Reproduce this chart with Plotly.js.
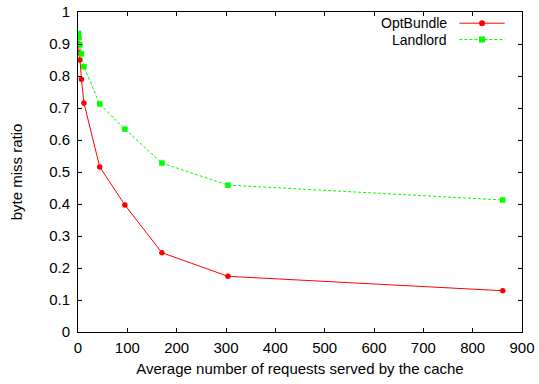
<!DOCTYPE html>
<html><head><meta charset="utf-8">
<script src="https://cdn.plot.ly/plotly-3.0.1.min.js"></script>
<style>html,body{margin:0;padding:0;background:#fff}#chart{width:539px;height:384px}</style>
</head><body><div id="chart"></div>
<script>
var requests = [1, 2, 4, 7, 12, 44, 95, 170, 304, 861];
var optBundle = [0.90, 0.872, 0.85, 0.79, 0.716, 0.516, 0.397, 0.248, 0.174, 0.129];
var landlordX = [1, 2, 4, 7, 12, 44, 95, 170, 304, 861];
var landlord = [0.933, 0.92, 0.897, 0.869, 0.829, 0.7125, 0.634, 0.528, 0.459, 0.4125];
var seriesNames = ['OptBundle', 'Landlord'];
var xTicks = [0, 100, 200, 300, 400, 500, 600, 700, 800, 900];
var yTicks = [0, 0.1, 0.2, 0.3, 0.4, 0.5, 0.6, 0.7, 0.8, 0.9, 1];

var font = {family: 'Liberation Sans, Arial, sans-serif', size: 15, color: '#000'};
var legendFont = {family: 'Liberation Sans, Arial, sans-serif', size: 14, color: '#000'};
var traces = [
  {x: requests, y: optBundle, name: seriesNames[0], mode: 'lines+markers',
   line: {color: '#ff0000', width: 1}, marker: {color: '#ff0000', symbol: 'circle', size: 5.5}},
  {x: landlordX, y: landlord, name: seriesNames[1], mode: 'lines+markers',
   line: {color: '#00ff00', width: 1, dash: '3px,2px'}, marker: {color: '#00ff00', symbol: 'square', size: 5.5}}
];
var axisCommon = {showline: true, linecolor: '#000', linewidth: 1, mirror: 'ticks', ticks: 'inside',
  ticklen: 4, tickcolor: '#000', showgrid: false, zeroline: false, tickfont: font};
var ly1 = 0.965, ly2 = 0.914, lx0 = 0.859, lx1 = 0.961, lxm = 0.910, ltx = 0.834;
var layout = {
  width: 539, height: 384, showlegend: false,
  margin: {l: 78, r: 17, t: 12, b: 52},
  paper_bgcolor: '#fff', plot_bgcolor: '#fff', font: font,
  xaxis: Object.assign({}, axisCommon, {range: [0, 900], tickvals: xTicks, ticktext: xTicks.map(String),
    ticklabelstandoff: 2,
    title: {text: 'Average number of requests served by the cache', font: font, standoff: 8}}),
  yaxis: Object.assign({}, axisCommon, {range: [0, 1], tickvals: yTicks, ticktext: yTicks.map(String),
    ticklabelstandoff: 4,
    title: {text: 'byte miss ratio', font: font, standoff: 22}}),
  annotations: [
    {xref: 'paper', yref: 'paper', x: ltx, y: ly1, text: seriesNames[0], showarrow: false, xanchor: 'right', yanchor: 'middle', font: legendFont, borderpad: 0},
    {xref: 'paper', yref: 'paper', x: ltx, y: ly2, text: seriesNames[1], showarrow: false, xanchor: 'right', yanchor: 'middle', font: legendFont, borderpad: 0}
  ],
  shapes: [
    {type: 'line', xref: 'paper', yref: 'paper', x0: lx0, x1: lx1, y0: ly1, y1: ly1, line: {color: '#ff0000', width: 1}},
    {type: 'line', xref: 'paper', yref: 'paper', x0: lx0, x1: lx1, y0: ly2, y1: ly2, line: {color: '#00ff00', width: 1, dash: '3px,2px'}},
    {type: 'circle', xref: 'paper', yref: 'paper', xsizemode: 'pixel', ysizemode: 'pixel', xanchor: lxm, yanchor: ly1,
     x0: -3, x1: 3, y0: -3, y1: 3, fillcolor: '#ff0000', line: {width: 0}},
    {type: 'rect', xref: 'paper', yref: 'paper', xsizemode: 'pixel', ysizemode: 'pixel', xanchor: lxm, yanchor: ly2,
     x0: -3, x1: 3, y0: -3, y1: 3, fillcolor: '#00ff00', line: {width: 0}}
  ]
};
Plotly.newPlot('chart', traces, layout, {staticPlot: true, displayModeBar: false});
</script></body></html>
